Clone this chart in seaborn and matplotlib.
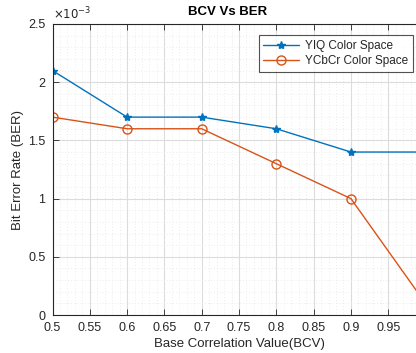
import matplotlib
matplotlib.use("Agg")
import matplotlib.pyplot as plt
import seaborn as sns
import pandas as pd
import numpy as np
from matplotlib.ticker import FuncFormatter, MultipleLocator

bcv = [0.5, 0.6, 0.7, 0.8, 0.9, 1.0]
ber_yiq = [2.1e-3, 1.7e-3, 1.7e-3, 1.6e-3, 1.4e-3, 1.4e-3]
ber_ycbcr = [1.7e-3, 1.6e-3, 1.6e-3, 1.3e-3, 1.0e-3, 0.1e-3]
series_names = ["YIQ Color Space", "YCbCr Color Space"]
colors = ["#0072BD", "#D95319"]

df = pd.DataFrame({
    "BCV": bcv * 2,
    "BER": ber_yiq + ber_ycbcr,
    "Series": [series_names[0]] * len(bcv) + [series_names[1]] * len(bcv),
})

sns.set_style("white")
plt.rcParams["font.family"] = ["Liberation Sans", "DejaVu Sans"]

W, H = 416, 353
fig = plt.figure(figsize=(W / 100, H / 100), dpi=100)
left = 52.5 / W
right = 425.5 / W
bottom = 1 - 315 / H
top = 1 - 24 / H
ax = fig.add_axes([left, bottom, right - left, top - bottom])

for name, c, m in zip(series_names, colors, ["*", "o"]):
    sub = df[df["Series"] == name]
    sns.lineplot(data=sub, x="BCV", y="BER", ax=ax, color=c, label=name,
                 marker=m, markersize=6 if m == "*" else 6.5,
                 markerfacecolor=c if m == "*" else "none",
                 markeredgecolor=c, markeredgewidth=1.0, linewidth=1.0)

ax.set_xlim(0.5, 1.0)
ax.set_ylim(0, 2.5e-3)
ax.xaxis.set_major_locator(MultipleLocator(0.05))
ax.xaxis.set_minor_locator(MultipleLocator(0.01))
ax.yaxis.set_major_locator(MultipleLocator(0.5e-3))
ax.yaxis.set_minor_locator(MultipleLocator(0.1e-3))
ax.xaxis.set_major_formatter(FuncFormatter(lambda v, p: "" if v > 0.99 else f"{v:g}"))
ax.yaxis.set_major_formatter(FuncFormatter(lambda v, p: f"{round(v * 1e3, 6):g}"))

ax.grid(True, which="major", color="#dcdcdc", linewidth=0.8, linestyle="-")
ax.grid(True, which="minor", color="#e6e6e6", linewidth=0.6, linestyle=(0, (1, 2.5)))
ax.set_axisbelow(True)

for s in ["left", "bottom", "top"]:
    ax.spines[s].set_visible(True)
    ax.spines[s].set_color("#262626")
    ax.spines[s].set_linewidth(0.8)
ax.spines["right"].set_visible(False)

ax.tick_params(which="major", direction="in", length=4, width=0.6, colors="#262626",
               labelsize=9, top=True, bottom=True, left=True, right=False, pad=5)
ax.tick_params(which="minor", length=0, top=False, bottom=False, left=False)

ax.set_xlabel("Base Correlation Value(BCV)", fontsize=9.5, color="#262626", labelpad=3)
ax.set_ylabel("Bit Error Rate (BER)", fontsize=9.5, color="#262626", labelpad=3)
fig.text(228 / W, 1 - 12 / H, "BCV Vs BER", fontsize=9.5, fontweight="bold",
         ha="center", va="center", color="black")
fig.text(53 / W, 1 - 14 / H, r"$\times10^{-3}$", fontsize=8.5, ha="left", va="center",
         color="#262626")

leg = ax.legend(loc="upper right", bbox_to_anchor=(412.5 / W, 1 - 35 / H),
                bbox_transform=fig.transFigure, borderaxespad=0, fontsize=8.5,
                frameon=True, fancybox=False, edgecolor="#262626",
                handlelength=3.0, borderpad=0.4, labelspacing=0.3, handletextpad=0.5)
leg.get_frame().set_linewidth(0.8)

fig.savefig("out.png", dpi=100)
